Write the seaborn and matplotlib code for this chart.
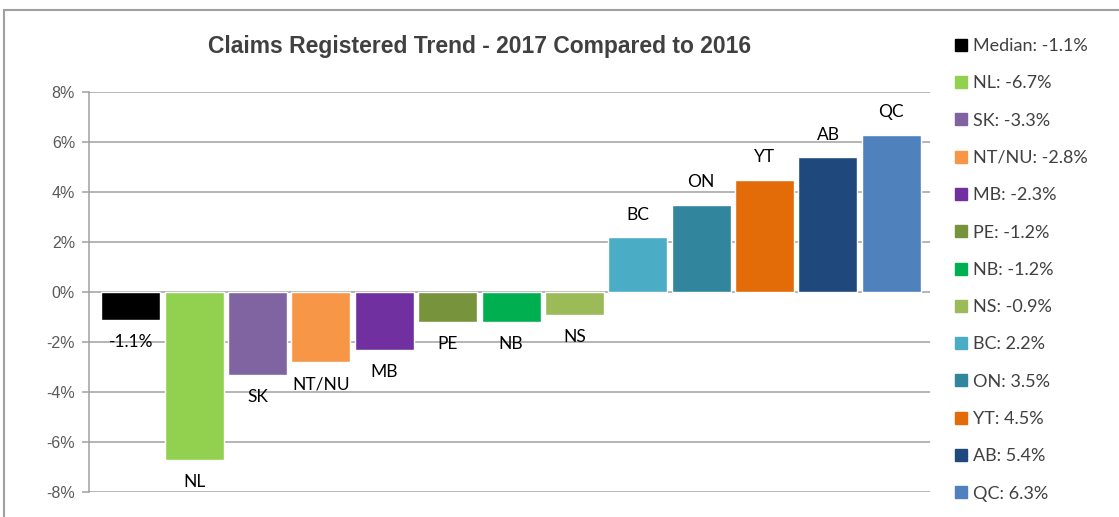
import matplotlib
matplotlib.use("Agg")
import matplotlib.pyplot as plt
import seaborn as sns
import pandas as pd
from matplotlib.lines import Line2D
from matplotlib.patches import Rectangle
from matplotlib.ticker import FuncFormatter

categories = ['Median', 'NL', 'SK', 'NT/NU', 'MB', 'PE', 'NB', 'NS', 'BC', 'ON', 'YT', 'AB', 'QC']
values = [-1.1, -6.7, -3.3, -2.8, -2.3, -1.2, -1.2, -0.9, 2.2, 3.5, 4.5, 5.4, 6.3]
colors = ['#000000', '#92D050', '#8064A2', '#F79646', '#7030A0', '#77933C', '#00B050',
          '#9BBB59', '#4BACC6', '#31859C', '#E36C09', '#1F497D', '#4F81BD']
bar_labels = ['-1.1%', 'NL', 'SK', 'NT/NU', 'MB', 'PE', 'NB', 'NS', 'BC', 'ON', 'YT', 'AB', 'QC']
yticks = [-8, -6, -4, -2, 0, 2, 4, 6, 8]

df = pd.DataFrame({'Province': categories, 'Change': values})

sns.set_theme(style="white")
label_font = ['Lato', 'DejaVu Sans']
arial = ['Liberation Sans', 'DejaVu Sans']

W, H = 1119, 517
fig = plt.figure(figsize=(W / 100, H / 100), dpi=100)
ax = fig.add_axes([89 / W, 1 - 492 / H, (930 - 89) / W, (492 - 92) / H])

sns.barplot(data=df, x='Province', y='Change', hue='Province', palette=colors,
            legend=False, width=0.93, saturation=1, ax=ax)

ax.set_xlim(-0.66, 12.61)
ax.set_ylim(-8, 8)
ax.set_yticks(yticks)
ax.yaxis.set_major_formatter(FuncFormatter(lambda v, p: f'{v:.0f}%'))
ax.set_xticks([])
ax.set_xlabel('')
ax.set_ylabel('')
ax.grid(axis='y', color='#A0A0A0', linewidth=1.1)
ax.set_axisbelow(True)
for s in ['top', 'right', 'bottom']:
    ax.spines[s].set_visible(False)
ax.spines['left'].set_color('#A0A0A0')
ax.spines['left'].set_linewidth(1.1)
ax.tick_params(axis='y', direction='out', length=5, width=1.1, color='#A0A0A0',
               labelcolor='#595959', labelsize=11.5, pad=5, left=True)
for t in ax.get_yticklabels():
    t.set_fontfamily(arial)

for i, (v, lab) in enumerate(zip(values, bar_labels)):
    off = 16 if v >= 0 else -16
    ax.annotate(lab, (i, v), xytext=(0, off), textcoords='offset points',
                ha='center', va='center', fontsize=12.5, color='#000000',
                family=label_font)

fig.text(480 / W, 1 - 46 / H, 'Claims Registered Trend - 2017 Compared to 2016',
         ha='center', va='center', fontsize=16.5, fontweight='bold',
         color='#404040', family=arial)

handles = [Line2D([0], [0], marker='s', linestyle='', markersize=8.5,
                  markerfacecolor=c, markeredgecolor=c) for c in colors]
legend_labels = [f'{c}: {v:.1f}%' for c, v in zip(categories, values)]
leg = fig.legend(handles, legend_labels, loc='upper left',
                 bbox_to_anchor=(945 / W, 1 - 29 / H), frameon=False,
                 prop={'family': label_font, 'size': 13}, labelspacing=1.18,
                 handlelength=0.8, handletextpad=0.25, borderpad=0)
for t in leg.get_texts():
    t.set_color('#404040')

fig.add_artist(Rectangle((4 / W, -0.1), 1.2, (H - 10) / H + 0.1,
                         transform=fig.transFigure, fill=False,
                         edgecolor='#A0A0A0', linewidth=1.5))

fig.savefig('out.png', dpi=100)
